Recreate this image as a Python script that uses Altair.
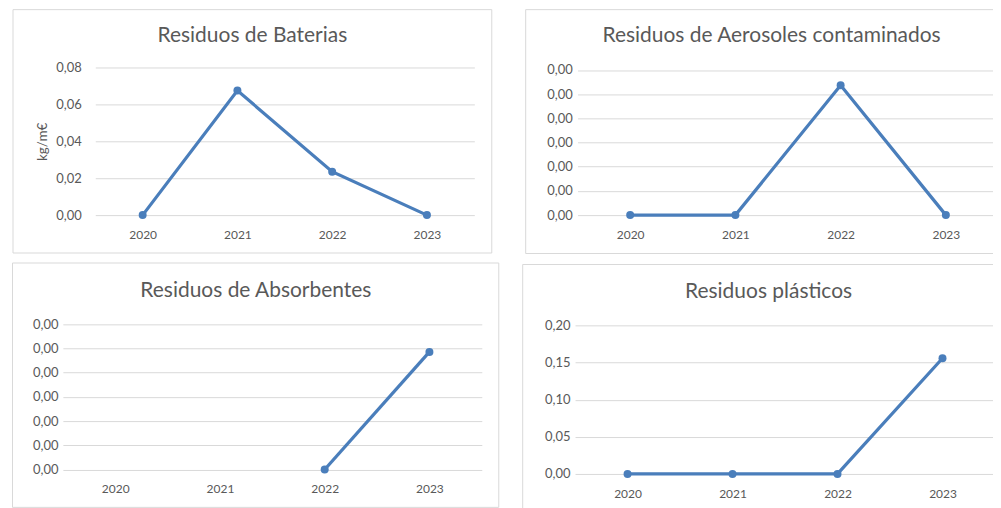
import altair as alt
import pandas as pd

years = ["2020", "2021", "2022", "2023"]
baterias = [0.0, 0.0675, 0.0235, 0.0]
aerosoles = [0.0, 0.0, 0.000537, 0.0]
absorbentes = [None, None, 0.0, 0.000486]
plasticos = [0.0, 0.0, 0.0, 0.1557]

titles = ["Residuos de Baterias", "Residuos de Aerosoles contaminados",
          "Residuos de Absorbentes", "Residuos plásticos"]
y_title = "kg/m€"

ticks_bat = [0, 0.02, 0.04, 0.06, 0.08]
ticks_small = [0, 0.0001, 0.0002, 0.0003, 0.0004, 0.0005, 0.0006]
ticks_pla = [0, 0.05, 0.10, 0.15, 0.20]

BLUE = "#4a7ebb"
GRAY = "#595959"
GRID = "#d9d9d9"
FONT = "Lato"
LABEL_EXPR = "replace(format(datum.value, '.2f'), '.', ',')"


def panel(values, W, H, xr, yr, dom, ticks, rect, title, tpos, ypad, ytitle=None):
    df = pd.DataFrame({"year": years, "v": values})
    yaxis_kw = dict(values=ticks, labelExpr=LABEL_EXPR, domain=False, ticks=False,
                    grid=True, gridColor=GRID, gridWidth=1, labelPadding=ypad,
                    labelFont=FONT, labelFontSize=13, labelColor=GRAY)
    if ytitle:
        yaxis_kw.update(title=ytitle, titleFont=FONT, titleFontSize=13.5, titleColor=GRAY,
                        titleFontWeight="normal", titleAngle=270, titleX=-52.5, titleY=H / 2,
                        titleBaseline="middle", titleAlign="center")
    else:
        yaxis_kw.update(title=None)
    x = alt.X("year:O", sort=years,
              scale=alt.Scale(type="point", padding=0.5, range=xr),
              axis=alt.Axis(title=None, labelAngle=0, domain=False, ticks=False, grid=False,
                            labelPadding=14.5, labelFont=FONT, labelFontSize=12,
                            labelColor=GRAY))
    y = alt.Y("v:Q", scale=alt.Scale(domain=dom, nice=False, zero=True, range=yr),
              axis=alt.Axis(**yaxis_kw))
    line = alt.Chart(df).mark_line(
        color=BLUE, strokeWidth=3.25,
        point=alt.OverlayMarkDef(color=BLUE, size=64, filled=True, opacity=1)
    ).encode(x=x, y=y)

    box = alt.Chart(alt.Data(values=[{"a": 1}])).mark_rect(
        fill="transparent", stroke=GRID, strokeWidth=1
    ).encode(x=alt.value(rect[0]), x2=alt.value(rect[1]),
             y=alt.value(rect[2]), y2=alt.value(rect[3]))

    ttl = alt.Chart(pd.DataFrame({"t": [title]})).mark_text(
        font=FONT, fontSize=21, color=GRAY, align="center", baseline="alphabetic"
    ).encode(x=alt.value(tpos[0]), y=alt.value(tpos[1]), text="t:N")

    return alt.layer(box, line, ttl).properties(width=W, height=H)


p1 = panel(baterias, 380, 148, [0, 380], [148, 0], [0, 0.08], ticks_bat,
           (-82.5, 397.5, -58, 186), titles[0], (157.5, -25.8), 14, ytitle=y_title)
p2 = panel(aerosoles, 422, 148, [0, 422], [148, 2.5], [0, 0.0006], ticks_small,
           (-52, 426, -58, 186.5), titles[1], (194.5, -25.8), 5.3)
p3 = panel(absorbentes, 387.5, 145.5, [-32.5, 387.5], [145.5, 0], [0, 0.0006], ticks_small,
           (-83, 404.5, -61.5, 183.5), titles[2], (161, -27.3), 37.3)
p4 = panel(plasticos, 421, 150, [0, 421], [150, 1], [0, 0.2], ticks_pla,
           (-52.5, 427, -60, 187), titles[3], (194, -26.3), 5)

row1 = alt.hconcat(p1, p2, spacing=31.5)
row2 = alt.hconcat(p3, p4, spacing=6)

chart = alt.vconcat(row1, row2, spacing=6.5).properties(
    padding={"left": 3.5, "top": 0, "right": -11, "bottom": -3.5}
).configure_view(stroke="transparent")

chart.save("out.html", embed_options={"renderer": "svg", "actions": False})
